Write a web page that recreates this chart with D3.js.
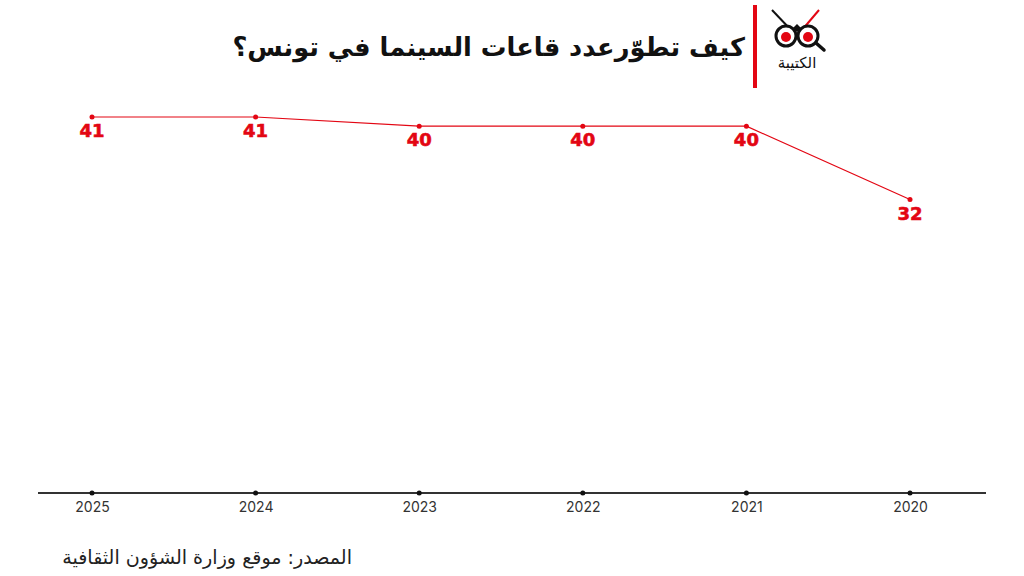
<!DOCTYPE html>
<html>
<head>
<meta charset="utf-8">
<script src="https://cdn.jsdelivr.net/npm/d3@7"></script>
<style>
  body { margin: 0; background: #fff; }
  svg { display: block; }
</style>
</head>
<body>
<svg id="chart" width="1024" height="576"></svg>
<script>
// data
const years = ["2025", "2024", "2023", "2022", "2021", "2020"];
const halls = [41, 41, 40, 40, 40, 32];
const title = "كيف تطوّرعدد قاعات السينما في تونس؟";
const source = "المصدر: موقع وزارة الشؤون الثقافية";

const width = 1024, height = 576;
const red = "#e30613";
const svg = d3.select("#chart");

const x = d3.scalePoint()
  .domain(years)
  .range([92, 910]);

const y = d3.scaleLinear()
  .domain([0, 41])
  .range([493, 117]);

// fit a text to a given width
function fitWidth(sel, w, size) {
  const tw = sel.node().getComputedTextLength();
  sel.attr("font-size", size * w / tw);
}

// axis line along the bottom
svg.append("line")
  .attr("x1", 38).attr("x2", 986)
  .attr("y1", y(0)).attr("y2", y(0))
  .attr("stroke", "#333")
  .attr("stroke-width", 2);

const xAxis = svg.append("g")
  .attr("transform", "translate(0," + y(0) + ")")
  .call(d3.axisBottom(x).tickSize(0).tickPadding(9));
xAxis.select(".domain").remove();
xAxis.selectAll("text")
  .attr("font-family", "Inter, 'Noto Sans', sans-serif")
  .attr("font-size", 14)
  .attr("fill", "#333");
// little dots on the axis at each year
svg.append("g").selectAll("circle")
  .data(years)
  .enter()
  .append("circle")
  .attr("cx", d => x(d))
  .attr("cy", y(0))
  .attr("r", 2.5)
  .attr("fill", "#111");

// the line
const line = d3.line()
  .x((d, i) => x(years[i]))
  .y(d => y(d));

svg.append("path")
  .datum(halls)
  .attr("d", line)
  .attr("fill", "none")
  .attr("stroke", red)
  .attr("stroke-width", 1.2);

svg.append("g").selectAll("circle")
  .data(halls)
  .enter()
  .append("circle")
  .attr("cx", (d, i) => x(years[i]))
  .attr("cy", d => y(d))
  .attr("r", 2.5)
  .attr("fill", red);

svg.append("g").selectAll("text")
  .data(halls)
  .enter()
  .append("text")
  .attr("x", (d, i) => x(years[i]))
  .attr("y", d => y(d) + 20)
  .attr("text-anchor", "middle")
  .attr("font-family", "'DejaVu Sans', sans-serif")
  .attr("font-weight", "bold")
  .attr("font-size", 18)
  .attr("fill", red)
  .attr("stroke", red)
  .attr("stroke-width", 0.6)
  .text(d => d);

// title, right aligned against the red bar
const t = svg.append("text")
  .attr("x", 745)
  .attr("y", 56)
  .attr("text-anchor", "start")
  .attr("direction", "rtl")
  .attr("font-family", "'DejaVu Sans', sans-serif")
  .attr("font-weight", "bold")
  .attr("font-size", 31)
  .attr("fill", "#111")
  .text(title);
fitWidth(t, 513, 31);

// red bar next to logo
svg.append("rect")
  .attr("x", 753).attr("y", 5)
  .attr("width", 4).attr("height", 83)
  .attr("fill", red);

// logo (simplified)
const logo = svg.append("g").attr("transform", "translate(797,36)");
logo.append("line").attr("x1", -25).attr("y1", -26).attr("x2", -6).attr("y2", -6)
  .attr("stroke", "#111").attr("stroke-width", 2);
logo.append("line").attr("x1", 22).attr("y1", -26).attr("x2", 5).attr("y2", -6)
  .attr("stroke", red).attr("stroke-width", 2);
logo.append("path").attr("d", "M-4,-8 L0,-12 L4,-8 L0,-4 Z").attr("fill", "#111");
[-11, 11].forEach(cx => {
  logo.append("circle").attr("cx", cx).attr("cy", 0).attr("r", 10)
    .attr("fill", "#fff").attr("stroke", "#111").attr("stroke-width", 3);
  logo.append("circle").attr("cx", cx).attr("cy", 1).attr("r", 5).attr("fill", red);
});
logo.append("line").attr("x1", 19).attr("y1", 7).attr("x2", 27).attr("y2", 14)
  .attr("stroke", "#111").attr("stroke-width", 3.5).attr("stroke-linecap", "round");
logo.append("text")
  .attr("x", 0).attr("y", 32)
  .attr("text-anchor", "middle")
  .attr("direction", "rtl")
  .attr("font-family", "'DejaVu Sans', sans-serif")
  .attr("font-size", 15)
  .attr("fill", "#111")
  .text("الكتيبة");

// source
const s = svg.append("text")
  .attr("x", 352)
  .attr("y", 564)
  .attr("text-anchor", "start")
  .attr("direction", "rtl")
  .attr("font-family", "'DejaVu Sans', sans-serif")
  .attr("font-size", 17)
  .attr("fill", "#222")
  .text(source);
fitWidth(s, 290, 17);
</script>
</body>
</html>
